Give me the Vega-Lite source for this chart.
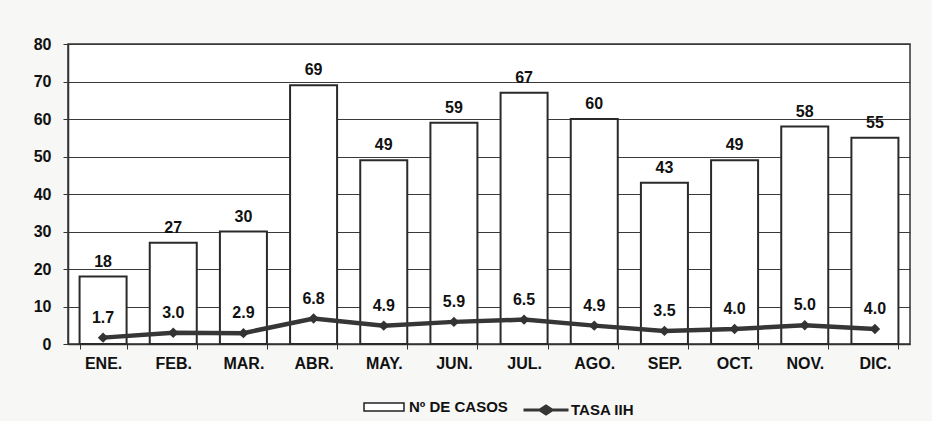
{
  "$schema": "https://vega.github.io/schema/vega-lite/v6.json",
  "width": 842,
  "height": 300,
  "autosize": {"type": "none"},
  "padding": {"left": 68, "top": 44, "right": 22, "bottom": 77},
  "background": "#f7f7f5",
  "config": {
    "view": {"stroke": "#333", "strokeWidth": 1.5, "fill": "white"},
    "font": "Liberation Sans",
    "axis": {"labelFont": "Liberation Sans", "labelFontWeight": "bold", "labelFontSize": 16, "labelColor": "#111"}
  },
  "data": {
    "values": [
      {"mes": "ENE.", "casos": 18, "tasa": 1.7, "tasa_lbl": "1.7"},
      {"mes": "FEB.", "casos": 27, "tasa": 3.0, "tasa_lbl": "3.0"},
      {"mes": "MAR.", "casos": 30, "tasa": 2.9, "tasa_lbl": "2.9"},
      {"mes": "ABR.", "casos": 69, "tasa": 6.8, "tasa_lbl": "6.8"},
      {"mes": "MAY.", "casos": 49, "tasa": 4.9, "tasa_lbl": "4.9"},
      {"mes": "JUN.", "casos": 59, "tasa": 5.9, "tasa_lbl": "5.9"},
      {"mes": "JUL.", "casos": 67, "tasa": 6.5, "tasa_lbl": "6.5"},
      {"mes": "AGO.", "casos": 60, "tasa": 4.9, "tasa_lbl": "4.9"},
      {"mes": "SEP.", "casos": 43, "tasa": 3.5, "tasa_lbl": "3.5"},
      {"mes": "OCT.", "casos": 49, "tasa": 4.0, "tasa_lbl": "4.0"},
      {"mes": "NOV.", "casos": 58, "tasa": 5.0, "tasa_lbl": "5.0"},
      {"mes": "DIC.", "casos": 55, "tasa": 4.0, "tasa_lbl": "4.0"}
    ]
  },
  "encoding": {
    "x": {
      "field": "mes", "type": "nominal", "sort": null, "title": null,
      "scale": {"paddingInner": 0.33, "paddingOuter": 0.165},
      "axis": {"labelAngle": 0, "tickBand": "extent", "tickSize": 5, "tickColor": "#333", "domainColor": "#333", "domainWidth": 1.5, "labelPadding": 6}
    },
    "y": {
      "field": "casos", "type": "quantitative", "title": null,
      "scale": {"domain": [0, 80]},
      "axis": {"values": [0, 10, 20, 30, 40, 50, 60, 70, 80], "labelOverlap": false, "grid": true, "gridColor": "#3a3a3a", "gridOpacity": 1, "gridWidth": 1.2, "tickSize": 5, "tickColor": "#333", "domainColor": "#333", "domainWidth": 1.5, "labelPadding": 12}
    }
  },
  "layer": [
    {
      "mark": {"type": "bar", "stroke": "#2a2a2a", "strokeWidth": 2},
      "encoding": {
        "fill": {
          "datum": "Nº DE CASOS", "type": "nominal",
          "scale": {"domain": ["Nº DE CASOS"], "range": ["white"]},
          "legend": {
            "title": null, "orient": "none", "legendX": 295, "legendY": 342,
            "labelFontSize": 15, "labelFontWeight": "bold", "labelColor": "#111", "symbolSize": 1600, "labelOffset": 4,
            "symbolType": "M-1,-0.2H1V0.2H-1Z", "symbolStrokeColor": "#222", "symbolStrokeWidth": 1.5
          }
        }
      }
    },
    {
      "mark": {"type": "text", "baseline": "bottom", "dy": -7, "fontSize": 16, "fontWeight": "bold", "color": "#111"},
      "encoding": {
        "text": {"field": "casos", "type": "quantitative"}
      }
    },
    {
      "mark": {"type": "line", "strokeWidth": 4.5},
      "encoding": {
        "y": {"field": "tasa", "type": "quantitative"},
        "stroke": {
          "datum": "TASA IIH", "type": "nominal",
          "scale": {"domain": ["TASA IIH"], "range": ["#363636"]},
          "legend": {
            "title": null, "orient": "none", "legendX": 454, "legendY": 342,
            "labelFontSize": 15, "labelFontWeight": "bold", "labelColor": "#111", "symbolSize": 2025, "labelOffset": 1,
            "symbolType": "M-1,0H1M-0.27,0L0,-0.18L0.27,0L0,0.18Z", "symbolFillColor": "#333", "symbolStrokeWidth": 3
          }
        }
      }
    },
    {
      "mark": {"type": "point", "shape": "diamond", "filled": true, "size": 110, "color": "#333", "opacity": 1},
      "encoding": {
        "y": {"field": "tasa", "type": "quantitative"}
      }
    },
    {
      "mark": {"type": "text", "baseline": "bottom", "dy": -12, "fontSize": 16, "fontWeight": "bold", "color": "#111"},
      "encoding": {
        "y": {"field": "tasa", "type": "quantitative"},
        "text": {"field": "tasa_lbl", "type": "nominal"}
      }
    }
  ]
}
